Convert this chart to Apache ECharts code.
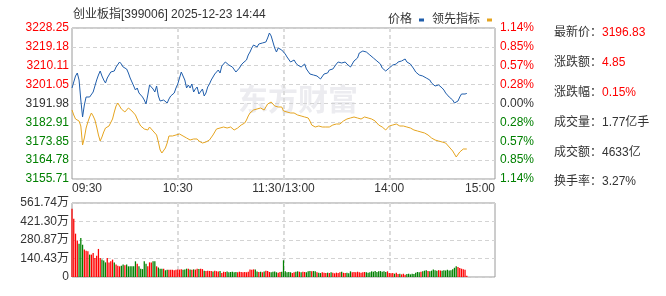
<!DOCTYPE html>
<html><head><meta charset="utf-8">
<script src="https://cdn.jsdelivr.net/npm/echarts@6/dist/echarts.min.js"></script>
<style>html,body{margin:0;padding:0;background:#fff}#c{width:666px;height:296px}</style>
</head><body><div id="c"></div>
<script>
const titleText = '创业板指[399006] 2025-12-23 14:44';
const seriesNames = ['价格', '领先指标'];
const prevClose = 3191.98;
const priceMin = 3155.71, priceMax = 3228.25;
const priceTicks = ['3155.71','3164.78','3173.85','3182.91','3191.98','3201.05','3210.11','3219.18','3228.25'];
const pctTicks = ['1.14%','0.85%','0.57%','0.28%','0.00%','0.28%','0.57%','0.85%','1.14%'];
const volMax = 561.74;
const volTicks = ['0','140.43万','280.87万','421.30万','561.74万'];
const timeTickIdx = [0, 60, 120, 180, 240];
const timeTickLabels = ['09:30','10:30','11:30/13:00','14:00','15:00'];
const infoLabels = ['最新价','涨跌额','涨跌幅','成交量','成交额','换手率'];
const infoValues = ['3196.83','4.85','0.15%','1.77亿手','4633亿','3.27%'];

const price = [
3199.43,3202.31,3205.19,3206.63,3203.27,3193.66,3185.50,3191.26,3195.10,3195.58,
3195.10,3196.06,3197.50,3200.39,3203.27,3205.67,3207.59,3205.19,3203.27,3201.83,
3204.23,3205.67,3207.11,3208.07,3207.59,3209.51,3210.47,3211.92,3210.95,3209.51,
3210.47,3208.55,3206.63,3204.23,3202.31,3200.39,3198.46,3199.43,3197.02,3196.06,
3195.10,3193.66,3191.74,3196.06,3200.87,3201.83,3198.94,3197.50,3200.39,3195.58,
3193.18,3192.22,3193.66,3192.70,3192.22,3194.14,3195.58,3196.06,3197.02,3199.43,
3201.35,3204.23,3207.11,3206.15,3203.27,3199.43,3200.87,3199.43,3201.35,3197.50,
3198.94,3199.91,3196.54,3197.50,3198.94,3195.58,3197.02,3199.91,3201.35,3203.27,
3202.31,3206.15,3207.11,3208.07,3206.63,3209.99,3210.47,3211.92,3211.44,3210.47,
3209.99,3209.51,3209.03,3207.11,3207.59,3209.03,3210.47,3211.44,3212.40,3212.88,
3215.28,3216.72,3218.64,3220.08,3219.60,3219.12,3220.56,3220.08,3221.04,3220.08,
3221.52,3223.45,3225.85,3224.41,3221.52,3218.64,3216.72,3218.64,3219.12,3217.68,
3216.72,3215.76,3214.32,3213.84,3211.92,3212.40,3212.88,3211.44,3210.47,3210.95,
3209.51,3209.99,3210.95,3208.55,3207.59,3206.15,3206.63,3205.67,3204.71,3205.19,
3204.23,3203.75,3204.71,3206.15,3207.11,3206.63,3208.07,3207.59,3208.55,3209.51,
3210.95,3211.92,3212.40,3211.44,3211.92,3211.92,3210.95,3209.99,3209.51,3210.95,
3212.40,3213.36,3213.84,3216.24,3216.72,3217.20,3217.68,3216.72,3215.76,3215.28,
3214.32,3213.84,3212.88,3212.40,3211.92,3210.95,3209.03,3208.07,3207.59,3208.55,
3209.03,3209.99,3210.47,3209.51,3210.95,3211.92,3211.44,3212.40,3212.88,3213.36,
3211.92,3211.44,3210.95,3210.47,3208.55,3207.11,3206.63,3205.67,3205.67,3205.19,
3204.71,3204.23,3204.23,3203.27,3201.83,3200.87,3200.39,3199.43,3200.87,3201.83,
3199.43,3198.46,3197.02,3196.06,3195.10,3194.62,3193.66,3192.22,3191.26,3193.18,
3195.10,3196.54,3196.54,3196.54,3196.83
];

const lead = [
3188.86,3186.46,3184.53,3184.05,3183.57,3181.17,3172.04,3175.41,3180.21,3183.09,
3185.50,3187.42,3185.98,3184.05,3180.69,3176.85,3173.96,3175.89,3178.29,3180.21,
3180.69,3181.17,3182.13,3184.53,3187.90,3190.78,3192.22,3190.78,3189.34,3188.38,
3187.90,3188.86,3189.82,3189.34,3188.38,3187.42,3186.46,3184.53,3182.61,3181.17,
3180.21,3179.73,3179.73,3179.25,3180.69,3180.21,3178.77,3177.81,3176.85,3173.48,
3169.64,3168.20,3169.16,3170.60,3173.00,3176.37,3176.85,3176.37,3176.85,3176.85,
3176.85,3177.33,3177.81,3176.37,3175.89,3175.41,3174.45,3174.45,3175.41,3174.93,
3174.45,3174.93,3173.96,3173.48,3173.00,3173.00,3173.48,3173.96,3174.45,3175.41,
3176.85,3178.29,3179.73,3180.21,3180.21,3180.69,3180.69,3180.21,3180.21,3180.69,
3180.69,3179.73,3179.25,3180.21,3180.21,3181.17,3181.65,3181.65,3182.61,3184.05,
3185.98,3187.42,3188.38,3188.86,3188.86,3189.34,3189.34,3189.82,3189.82,3188.86,
3190.30,3191.74,3192.70,3192.70,3191.74,3190.78,3190.30,3190.30,3190.30,3190.30,
3188.38,3187.90,3187.90,3187.90,3187.42,3187.42,3187.42,3186.94,3186.46,3186.46,
3185.98,3185.98,3185.50,3185.50,3185.02,3183.57,3181.65,3181.17,3180.69,3180.69,
3181.17,3180.69,3180.69,3181.17,3180.69,3180.69,3180.69,3181.17,3181.65,3182.13,
3182.13,3182.61,3182.13,3182.61,3183.57,3184.05,3184.53,3185.02,3185.02,3185.50,
3185.50,3185.50,3185.02,3185.02,3184.53,3185.02,3185.50,3185.02,3185.02,3184.53,
3184.53,3184.05,3183.57,3182.61,3181.65,3181.17,3180.69,3180.21,3179.25,3179.73,
3181.17,3182.13,3181.65,3182.13,3182.13,3181.65,3181.17,3181.17,3181.17,3180.69,
3180.69,3180.69,3180.21,3179.73,3179.25,3179.25,3178.77,3178.29,3178.29,3177.81,
3177.81,3177.81,3176.85,3175.89,3175.41,3174.93,3174.45,3174.45,3173.96,3173.96,
3173.48,3173.00,3173.00,3172.04,3171.08,3170.12,3169.16,3167.72,3166.28,3167.24,
3168.68,3169.64,3170.12,3170.12,3170.12
];

const volume = [
519,443,329,278,253,296,245,208,200,195,
170,170,182,144,162,213,144,132,125,111,
144,111,119,132,111,94,86,81,86,94,
90,94,81,81,81,81,119,100,81,63,
60,119,100,81,111,111,119,119,81,72,
63,63,63,51,55,55,55,55,51,55,
56,56,58,55,56,63,63,56,55,58,
56,63,60,62,60,48,45,48,46,45,
42,48,44,42,45,30,40,38,42,36,
38,40,36,38,36,40,38,36,38,36,
40,56,55,58,56,42,38,40,36,42,
48,45,38,36,40,42,36,33,38,40,
127,43,36,38,36,30,36,40,43,40,
36,40,38,36,43,45,43,45,43,36,
33,30,36,32,30,33,30,36,32,28,
33,30,36,40,32,30,33,28,43,36,
38,36,40,36,33,36,38,36,33,36,
43,40,45,38,43,45,40,43,38,43,
30,28,30,25,33,22,25,20,25,18,
22,25,20,25,22,33,38,36,40,43,
48,51,45,43,48,56,52,48,52,50,
48,52,50,55,50,52,58,70,81,75,
68,63,58,55,10
];

// categories: one per trading minute
const times = [];
for (let m = 0; m <= 240; m++) {
  const t = m <= 120 ? 570 + m : 780 + (m - 120);
  const h = Math.floor(t / 60), mm = t % 60;
  times.push(String(h).padStart(2, '0') + ':' + String(mm).padStart(2, '0'));
}

const RED = '#ff0000', GREEN = '#008000', DARK = '#333';
const priceInterval = (priceMax - priceMin) / 8;
const volInterval = volMax / 4;
const FONT = 'Arial, "Liberation Sans", "Noto Sans CJK SC", sans-serif';

function pIdx(v) { return Math.round((v - priceMin) / priceInterval); }
function pColor(v) { const i = pIdx(v); return i < 4 ? GREEN : (i === 4 ? DARK : RED); }

const chart = echarts.init(document.getElementById('c'), null, { renderer: 'canvas' });

const graphics = [
  { type: 'text', left: 73, top: 9, z: 10, style: { text: titleText, fill: DARK, font: '12px ' + FONT } },
  { type: 'text', left: 238, top: 84, z: 0, style: { text: '东方财富', fill: '#ececf0', font: 'bold 30px "Noto Sans CJK SC", sans-serif' } }
];
const upChange = parseFloat(infoValues[1]) >= 0;
infoLabels.forEach((lab, i) => {
  const y = 27 + i * 29.8;
  graphics.push({ type: 'text', left: 554, top: y, style: { text: lab + '：', fill: DARK, font: '12px ' + FONT } });
  graphics.push({ type: 'text', left: 602, top: y, style: { text: infoValues[i], fill: i < 3 ? (upChange ? RED : GREEN) : DARK, font: '12px ' + FONT } });
});

const hSplit = { show: true, lineStyle: { color: '#d3d3d3', width: 1, type: [4, 3] } };
const vSplit = { show: true, interval: (i) => i === 60 || i === 120 || i === 180, lineStyle: { color: '#dcdcdc', width: 2, type: [4, 3] } };

chart.setOption({
  animation: false,
  textStyle: { fontFamily: FONT },
  legend: {
    right: 169, top: 9, align: 'right', icon: 'rect', itemWidth: 5, itemHeight: 3, itemGap: 8,
    textStyle: { fontSize: 12, color: DARK, padding: [0, 2, 0, 0] },
    data: seriesNames, selectedMode: false
  },
  grid: [
    { left: 72, right: 171, top: 28, height: 151, show: true, borderColor: '#9a9a9a', borderWidth: 1 },
    { left: 72, right: 171, top: 203, height: 74, show: true, borderColor: '#9a9a9a', borderWidth: 1 }
  ],
  xAxis: [
    {
      type: 'category', gridIndex: 0, data: times, boundaryGap: false,
      axisLine: { show: false }, axisTick: { show: false },
      axisLabel: {
        interval: (i) => timeTickIdx.includes(i), margin: 4, fontSize: 12, color: DARK,
        alignMinLabel: 'left', alignMaxLabel: 'right',
        formatter: (v, i) => { const k = timeTickIdx.indexOf(i); return k >= 0 ? timeTickLabels[k] : ''; }
      },
      splitLine: vSplit
    },
    {
      type: 'category', gridIndex: 1, data: times, boundaryGap: false,
      axisLine: { show: false }, axisTick: { show: false }, axisLabel: { show: false },
      splitLine: vSplit
    }
  ],
  yAxis: [
    {
      type: 'value', gridIndex: 0, position: 'left', min: priceMin, max: priceMax, interval: priceInterval,
      axisLine: { show: false }, axisTick: { show: false },
      axisLabel: { margin: 3, fontSize: 12, formatter: (v) => priceTicks[pIdx(v)], color: (v) => pColor(v) },
      splitLine: hSplit
    },
    {
      type: 'value', gridIndex: 0, position: 'right', min: priceMin, max: priceMax, interval: priceInterval,
      axisLine: { show: false }, axisTick: { show: false },
      axisLabel: { margin: 5, fontSize: 12, formatter: (v) => pctTicks[pIdx(v)], color: (v) => pColor(v) },
      splitLine: { show: false }
    },
    {
      type: 'value', gridIndex: 1, min: 0, max: volMax, interval: volInterval,
      axisLine: { show: false }, axisTick: { show: false },
      axisLabel: { margin: 3, fontSize: 12, color: DARK, formatter: (v) => volTicks[Math.round(v / volInterval)] },
      splitLine: hSplit
    }
  ],
  graphic: graphics,
  series: [
    {
      name: seriesNames[0], type: 'line', xAxisIndex: 0, yAxisIndex: 0, data: price,
      symbol: 'none', lineStyle: { color: '#1f5dab', width: 1 }, itemStyle: { color: '#1f5dab' }, z: 3
    },
    {
      name: seriesNames[1], type: 'line', xAxisIndex: 0, yAxisIndex: 0, data: lead,
      symbol: 'none', lineStyle: { color: '#e5a41f', width: 1 }, itemStyle: { color: '#e5a41f' }, z: 2
    },
    {
      name: '成交量', type: 'bar', xAxisIndex: 1, yAxisIndex: 2, data: volume, barWidth: '72%',
      itemStyle: {
        color: (p) => {
          const i = p.dataIndex;
          const prev = i === 0 ? prevClose : price[i - 1];
          return price[i] >= prev ? RED : GREEN;
        }
      }
    }
  ]
});
</script>
</body></html>
